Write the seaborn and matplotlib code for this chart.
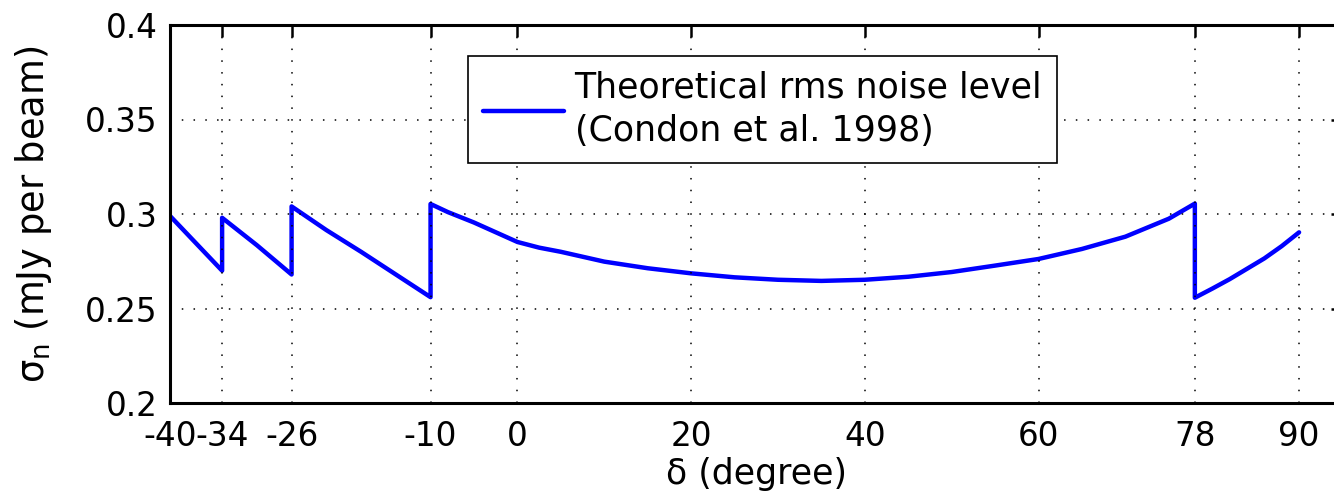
import numpy as np
import pandas as pd
import matplotlib
matplotlib.use("Agg")
import matplotlib.pyplot as plt
import seaborn as sns

# declination (degree) and theoretical rms noise (mJy per beam)
dec = [-40, -37, -34,
       -34, -30, -26,
       -26, -22, -18, -14, -10,
       -10, -8, -5, 0, 2.5, 5, 10, 15, 20, 25, 30, 35, 40, 45, 50, 55, 60, 65, 70, 75, 78,
       78, 80, 82, 84, 86, 88, 90]
sigma = [0.299, 0.2845, 0.270,
         0.298, 0.2835, 0.268,
         0.304, 0.2915, 0.280, 0.268, 0.256,
         0.3053, 0.3010, 0.2955, 0.2852, 0.2822, 0.2800, 0.2748, 0.2713, 0.2686, 0.2665,
         0.2652, 0.2646, 0.2652, 0.2668, 0.2693, 0.2727, 0.2762, 0.2815, 0.2880, 0.2975,
         0.3055,
         0.2557, 0.2605, 0.2655, 0.2710, 0.2765, 0.2830, 0.2903]
xticks = [-40, -34, -26, -10, 0, 20, 40, 60, 78, 90]
yticks = [0.2, 0.25, 0.3, 0.35, 0.4]
ytick_labels = ["0.2", "0.25", "0.3", "0.35", "0.4"]
legend_label = "Theoretical rms noise level\n(Condon et al. 1998)"

sns.set_theme(style="white")
plt.rcParams['font.family'] = ['DejaVu Sans']
plt.rcParams['mathtext.fontset'] = 'dejavusans'
plt.rcParams['text.color'] = 'black'
plt.rcParams['axes.labelcolor'] = 'black'

W, H = 1334, 497
fig = plt.figure(figsize=(W / 100, H / 100), dpi=100)
ax_left, ax_right, ax_top, ax_bottom = 170, 1342.5, 25, 403
ax = fig.add_axes([ax_left / W, 1 - ax_bottom / H, (ax_right - ax_left) / W, (ax_bottom - ax_top) / H])

df = pd.DataFrame({"dec": dec, "sigma": sigma})
sns.lineplot(data=df, x="dec", y="sigma", sort=False, estimator=None, ax=ax,
             color=(0, 0, 1), linewidth=3.2, label=legend_label)

ax.set_xlim(-40, 95)
ax.set_ylim(0.2, 0.4)
ax.set_xticks(xticks)
ax.set_xticklabels([str(t) for t in xticks])
ax.set_yticks(yticks)
ax.set_yticklabels(ytick_labels)

fs = 23.5
fs_lab = 25
ax.tick_params(axis='both', direction='in', length=8.5, width=1.8, labelsize=fs,
               top=True, right=True, color='black', labelcolor='black')
ax.tick_params(axis='x', pad=12)
ax.tick_params(axis='y', pad=9)
for s in ax.spines.values():
    s.set_linewidth(2.2)
    s.set_color('black')

ax.grid(True, color='black', linestyle=(0, (1, 6.7)), linewidth=1.1)
ax.set_axisbelow(False)

ax.set_xlabel("δ (degree)", fontsize=fs_lab, color='black', labelpad=3)
ax.set_ylabel("σ$_\\mathrm{n}$ (mJy per beam)", fontsize=26.5, color='black', labelpad=22)

leg = ax.legend(loc='upper left', bbox_to_anchor=(468 / W, 1 - 56 / H),
                bbox_transform=fig.transFigure, borderaxespad=0,
                fontsize=fs_lab, frameon=True, fancybox=False, shadow=False,
                handlelength=2.35, handletextpad=0.3, borderpad=0.42)
leg.get_frame().set_edgecolor('black')
leg.get_frame().set_linewidth(1.2)
leg.get_frame().set_alpha(1)
for t in leg.get_texts():
    t.set_linespacing(1.35)
    t.set_color('black')

fig.savefig("out.png", dpi=100, facecolor='white')
